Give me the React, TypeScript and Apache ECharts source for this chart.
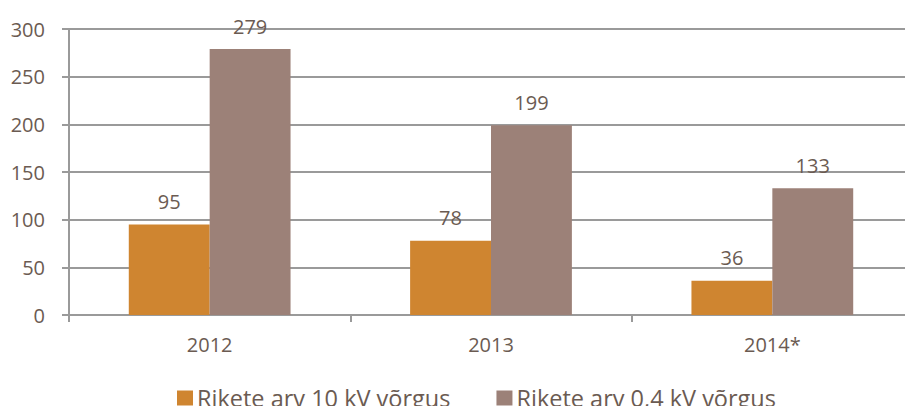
import React, { useEffect, useRef } from "react";
import * as echarts from "echarts";

const categories = ["2012", "2013", "2014*"];
const series10kV = [95, 78, 36];
const series04kV = [279, 199, 133];
const seriesNames = ["Rikete arv 10 kV võrgus", "Rikete arv 0,4 kV võrgus"];

const TEXT = "#6b5b52";
const FONT = "Open Sans";

export default function App() {
  const ref = useRef<HTMLDivElement>(null);
  useEffect(() => {
    if (!ref.current) return;
    const chart = echarts.init(ref.current, null, { renderer: "svg" });
    chart.setOption({
      animation: false,
      textStyle: { fontFamily: FONT },
      grid: { left: 69, top: 29, width: 855, height: 286, containLabel: false },
      legend: {
        top: 380,
        left: 172,
        itemWidth: 16,
        itemHeight: 15,
        itemGap: 46,
        icon: "rect",
        textStyle: { color: TEXT, fontSize: 23.5, lineHeight: 26, fontFamily: FONT, padding: [0, 0, 0, -1] },
        data: seriesNames,
      },
      xAxis: {
        type: "category",
        data: categories,
        axisLine: { lineStyle: { color: "#9a9a9a", width: 2 } },
        axisTick: { show: true, length: 7, lineStyle: { color: "#9a9a9a", width: 2 } },
        axisLabel: { color: TEXT, fontSize: 20, margin: 19, fontFamily: FONT },
      },
      yAxis: {
        type: "value",
        min: 0,
        max: 300,
        interval: 50,
        axisLine: { show: true, lineStyle: { color: "#9a9a9a", width: 2 } },
        axisTick: { show: true, length: 7, lineStyle: { color: "#9a9a9a", width: 2 } },
        axisLabel: { color: TEXT, fontSize: 20, margin: 24, fontFamily: FONT },
        splitLine: { lineStyle: { color: "#9a9a9a", width: 2 } },
      },
      series: [
        {
          name: seriesNames[0],
          type: "bar",
          data: series10kV,
          barGap: "0%",
          barCategoryGap: "42.5%",
          itemStyle: { color: "#cf8530" },
          label: { show: true, position: "top", distance: 13, color: TEXT, fontSize: 20, fontFamily: FONT },
        },
        {
          name: seriesNames[1],
          type: "bar",
          data: series04kV,
          barGap: "0%",
          barCategoryGap: "42.5%",
          itemStyle: { color: "#9c8178" },
          label: { show: true, position: "top", distance: 13, color: TEXT, fontSize: 20, fontFamily: FONT },
        },
      ],
    });
    return () => chart.dispose();
  }, []);
  return <div ref={ref} style={{ width: 913, height: 414, margin: -8 }} />;
}
